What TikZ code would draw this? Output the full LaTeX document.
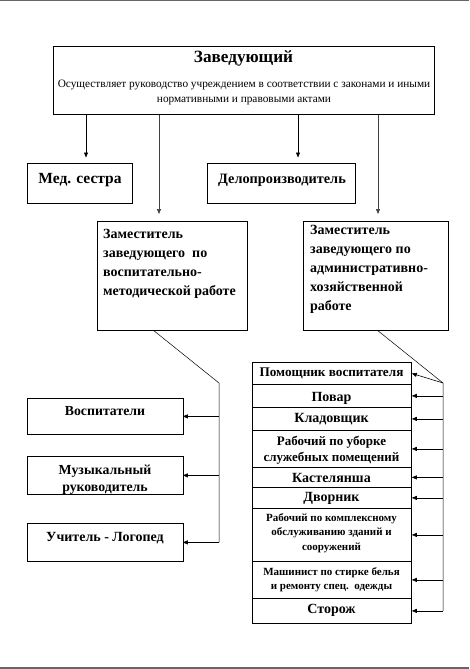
\documentclass[tikz,border=0pt]{standalone}
\usepackage{fontspec}
\setmainfont{Liberation Serif}
\usetikzlibrary{arrows.meta,calc}
\begin{document}
\begin{tikzpicture}[x=1pt,y=-1pt,
  box/.style={draw=black, line width=0.8pt, inner sep=0pt, anchor=north west},
  row/.style={box, minimum width=159pt},
  txt/.style={inner sep=0pt, anchor=base, font=\bfseries},
  arr/.style={-{Triangle[length=5pt,width=4pt]}, line width=0.6pt},
  conn/.style={line width=0.5pt},
  gl/.style={draw=black!60, line width=1.5pt}]
\useasboundingbox (0,0) rectangle (469,669);
\draw[gl] (0,0.7) -- (469,0.7);
\draw[gl] (0,667.8) -- (469,667.8);

% top box
\node[box, minimum width=381pt, minimum height=68pt] (zav) at (53,46) {};
\node[txt, font=\fontsize{17.2}{19}\selectfont\bfseries] (zavt) at (243.5,63) {Заведующий};
\node[txt, font=\fontsize{11.3}{13}\selectfont] (zl1) at (244,87.5) {Осуществляет руководство учреждением в соответствии с законами и иными};
\node[txt, font=\fontsize{11.3}{13}\selectfont] (zl2) at (244,102) {нормативными и правовыми актами};

% second level
\node[box, minimum width=105pt, minimum height=40pt] (ms) at (27,163) {};
\node[txt, font=\fontsize{15.5}{17}\selectfont\bfseries] (mst) at (80,183) {Мед. сестра};
\node[box, minimum width=148pt, minimum height=40pt] (dp) at (207,163) {};
\node[txt, font=\fontsize{14.3}{17}\selectfont\bfseries] (dpt) at (282,183) {Делопроизводитель};

% deputies
\node[box, minimum width=150pt, minimum height=109pt] (vm) at (97,221) {};
\node[inner sep=0pt, anchor=base west, font=\fontsize{14}{19}\selectfont\bfseries, align=left] (vmt) at (103,295)
  {Заместитель\\заведующего\ \ по\\воспитательно-\\методической работе};
\node[box, minimum width=145pt, minimum height=109pt] (ah) at (303,221) {};
\node[inner sep=0pt, anchor=base west, font=\fontsize{14}{19}\selectfont\bfseries, align=left] (aht) at (310,310)
  {Заместитель\\заведующего по\\административно-\\хозяйственной\\работе};

% left staff
\node[box, minimum width=156pt, minimum height=36pt] (vos) at (27,398) {};
\node[txt, font=\fontsize{13.8}{15}\selectfont\bfseries] (vost) at (105,415) {Воспитатели};
\node[box, minimum width=156pt, minimum height=38pt] (muz) at (27,456) {};
\node[txt, font=\fontsize{13.8}{17.5}\selectfont\bfseries, align=center] (muzt) at (105,491.5) {Музыкальный\\руководитель};
\node[box, minimum width=156pt, minimum height=38pt] (uch) at (27,523) {};
\node[txt, font=\fontsize{14}{15}\selectfont\bfseries] (ucht) at (105,541.7) {Учитель - Логопед};

% right column
\node[row, minimum height=22pt] (r1) at (252,362) {};
\node[row, minimum height=23pt] (r2) at (252,384) {};
\node[row, minimum height=23pt] (r3) at (252,407) {};
\node[row, minimum height=37pt] (r4) at (252,430) {};
\node[row, minimum height=20pt] (r5) at (252,467) {};
\node[row, minimum height=21pt] (r6) at (252,487) {};
\node[row, minimum height=53pt] (r7) at (252,508) {};
\node[row, minimum height=37pt] (r8) at (252,561) {};
\node[row, minimum height=25pt] (r9) at (252,598) {};
\node[txt, font=\fontsize{13.2}{14}\selectfont\bfseries] (t1) at (331.5,376.7) {Помощник воспитателя};
\node[txt, font=\fontsize{14}{16}\selectfont\bfseries] (t2) at (331.5,401) {Повар};
\node[txt, font=\fontsize{14}{16}\selectfont\bfseries] (t3) at (331.5,422.7) {Кладовщик};
\node[txt, font=\fontsize{13}{16}\selectfont\bfseries, align=center] (t4) at (331.5,461.7) {Рабочий по уборке\\служебных помещений};
\node[txt, font=\fontsize{14}{16}\selectfont\bfseries] (t5) at (331.5,482.7) {Кастелянша};
\node[txt, font=\fontsize{14}{16}\selectfont\bfseries] (t6) at (331.5,501.7) {Дворник};
\node[txt, font=\fontsize{11}{14.2}\selectfont\bfseries, align=center] (t7) at (331.5,550) {Рабочий по комплексному\\обслуживанию зданий и\\сооружений};
\node[txt, font=\fontsize{11}{14}\selectfont\bfseries, align=center] (t8) at (331.5,589) {Машинист по стирке белья\\и ремонту спец.\ \ одежды};
\node[txt, font=\fontsize{14}{16}\selectfont\bfseries] (t9) at (331.5,613) {Сторож};

% arrows from top
\draw[arr] ([xshift=33pt]zav.south west) -- ([xshift=33pt]zav.south west |- ms.north) [shorten >=5.5pt];
\draw[arr, draw=black!75, fill=black!75] ([xshift=106pt]zav.south west) -- ([xshift=106pt]zav.south west |- vm.north) [shorten >=7pt];
\draw[arr] ([xshift=245pt]zav.south west) -- ([xshift=245pt]zav.south west |- dp.north) [shorten >=5.5pt];
\draw[arr, draw=black!75, fill=black!75] ([xshift=325pt]zav.south west) -- ([xshift=325pt]zav.south west |- ah.north) [shorten >=7pt];

% left branch
\coordinate (j1) at (219,383);
\draw[conn] ([xshift=57pt]vm.south west) -- (j1) -- (j1 |- uch.east);
\draw[arr] (j1 |- vos.east) -- (vos.east) [shorten >=-1pt];
\draw[arr] (j1 |- muz.east) -- (muz.east) [shorten >=-1pt];
\draw[arr] (j1 |- uch.east) -- (uch.east) [shorten >=-1pt];

% right branch
\coordinate (j2) at (443,383);
\draw[conn] ([xshift=75pt]ah.south west) -- (j2) -- (j2 |- r9.east);
\draw[arr] (j2) -- (r1.east);
\foreach \r in {r2,r3,r4,r5,r6,r7,r8,r9}
  \draw[arr] (j2 |- \r.east) -- (\r.east);
\end{tikzpicture}
\end{document}
